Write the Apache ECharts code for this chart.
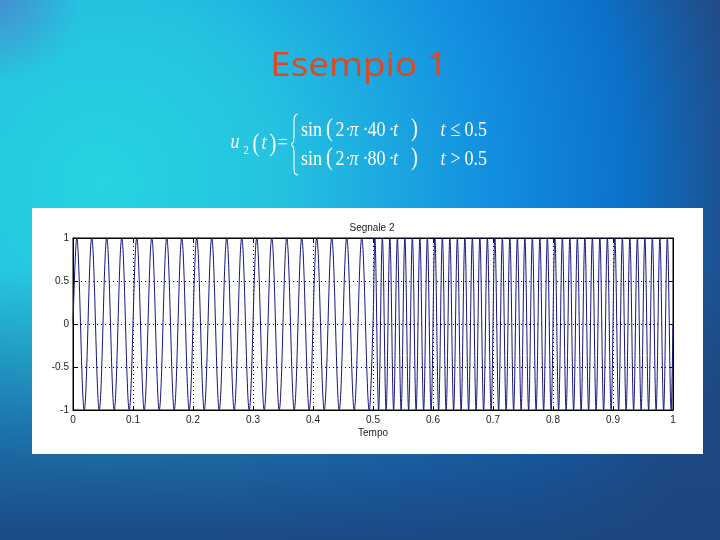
<!DOCTYPE html>
<html>
<head>
<meta charset="utf-8">
<script src="https://cdn.jsdelivr.net/npm/echarts@6/dist/echarts.min.js"></script>
<style>
  html, body { margin: 0; padding: 0; }
  #chart { width: 720px; height: 540px; }
</style>
</head>
<body>
<div id="chart"></div>
<script>
// picchi e valli del segnale (40 Hz fino a 0.5, poi 80 Hz)
var tempo = [
  0,
  0.00625, 0.01875, 0.03125, 0.04375, 0.05625, 0.06875, 0.08125, 0.09375,
  0.10625, 0.11875, 0.13125, 0.14375, 0.15625, 0.16875, 0.18125, 0.19375,
  0.20625, 0.21875, 0.23125, 0.24375, 0.25625, 0.26875, 0.28125, 0.29375,
  0.30625, 0.31875, 0.33125, 0.34375, 0.35625, 0.36875, 0.38125, 0.39375,
  0.40625, 0.41875, 0.43125, 0.44375, 0.45625, 0.46875, 0.48125, 0.49375,
  0.5,
  0.503125, 0.509375, 0.515625, 0.521875, 0.528125, 0.534375, 0.540625, 0.546875,
  0.553125, 0.559375, 0.565625, 0.571875, 0.578125, 0.584375, 0.590625, 0.596875,
  0.603125, 0.609375, 0.615625, 0.621875, 0.628125, 0.634375, 0.640625, 0.646875,
  0.653125, 0.659375, 0.665625, 0.671875, 0.678125, 0.684375, 0.690625, 0.696875,
  0.703125, 0.709375, 0.715625, 0.721875, 0.728125, 0.734375, 0.740625, 0.746875,
  0.753125, 0.759375, 0.765625, 0.771875, 0.778125, 0.784375, 0.790625, 0.796875,
  0.803125, 0.809375, 0.815625, 0.821875, 0.828125, 0.834375, 0.840625, 0.846875,
  0.853125, 0.859375, 0.865625, 0.871875, 0.878125, 0.884375, 0.890625, 0.896875,
  0.903125, 0.909375, 0.915625, 0.921875, 0.928125, 0.934375, 0.940625, 0.946875,
  0.953125, 0.959375, 0.965625, 0.971875, 0.978125, 0.984375, 0.990625, 0.996875,
  1
];
var segnale = [
  0,
  1, -1, 1, -1, 1, -1, 1, -1,
  1, -1, 1, -1, 1, -1, 1, -1,
  1, -1, 1, -1, 1, -1, 1, -1,
  1, -1, 1, -1, 1, -1, 1, -1,
  1, -1, 1, -1, 1, -1, 1, -1,
  0,
  1, -1, 1, -1, 1, -1, 1, -1,
  1, -1, 1, -1, 1, -1, 1, -1,
  1, -1, 1, -1, 1, -1, 1, -1,
  1, -1, 1, -1, 1, -1, 1, -1,
  1, -1, 1, -1, 1, -1, 1, -1,
  1, -1, 1, -1, 1, -1, 1, -1,
  1, -1, 1, -1, 1, -1, 1, -1,
  1, -1, 1, -1, 1, -1, 1, -1,
  1, -1, 1, -1, 1, -1, 1, -1,
  1, -1, 1, -1, 1, -1, 1, -1,
  0
];
var xTicks = [0, 0.1, 0.2, 0.3, 0.4, 0.5, 0.6, 0.7, 0.8, 0.9, 1];
var yTicks = [-1, -0.5, 0, 0.5, 1];

var chart = echarts.init(document.getElementById("chart"));

var serif = "'Liberation Serif', 'DejaVu Serif', serif";
var sans = "'Liberation Sans', Arial, sans-serif";
function txt(x, y, s, size, italic) {
  return {
    type: "text",
    x: x,
    y: y,
    scaleX: 0.82,
    z: 5,
    style: {
      text: s,
      fill: "#ffffff",
      font: (italic ? "italic " : "") + size + "px " + serif,
      verticalAlign: "middle"
    }
  };
}
function riga(y, freq, cond) {
  return [
    txt(301, y, "sin", 22),
    txt(326, y - 1, "(", 25),
    txt(335.5, y, "2", 22),
    txt(345, y, "\u00b7", 22),
    txt(349.5, y, "\u03c0", 22, true),
    txt(362.5, y, "\u00b7", 22),
    txt(367.5, y, freq, 22),
    txt(388.5, y, "\u00b7", 22),
    txt(393, y, "t", 22, true),
    txt(411, y - 1, ")", 25),
    txt(440.5, y, "t", 22, true),
    txt(450.5, y, cond, 22),
    txt(464.5, y, "0.5", 22)
  ];
}
function curva(x1, y1, cx1, cy1, cx2, cy2, x2, y2) {
  return {
    type: "bezierCurve",
    z: 5,
    shape: { x1: x1, y1: y1, cpx1: cx1, cpy1: cy1, cpx2: cx2, cpy2: cy2, x2: x2, y2: y2 },
    style: { stroke: "#ffffff", lineWidth: 1.1, fill: null }
  };
}
function tratto(x1, y1, x2, y2) {
  return {
    type: "line",
    z: 5,
    shape: { x1: x1, y1: y1, x2: x2, y2: y2 },
    style: { stroke: "#ffffff", lineWidth: 1.1 }
  };
}

var dotted = { color: "#000", type: [1, 3], width: 1 };
var tick = { show: true, inside: true, length: 4, lineStyle: { color: "#000" } };
var line = { show: true, onZero: false, lineStyle: { color: "#000" } };

chart.setOption({
  animation: false,
  graphic: [
    {
      type: "rect",
      z: -30,
      shape: { x: 0, y: 0, width: 720, height: 540 },
      style: {
        fill: {
          type: "radial", x: 0.14, y: 0.34, r: 1.2,
          colorStops: [
            { offset: 0, color: "#25d4e2" },
            { offset: 0.28, color: "#25c2e0" },
            { offset: 0.62, color: "#128ce0" },
            { offset: 0.82, color: "#0c70c8" },
            { offset: 1, color: "#214a82" }
          ]
        }
      },
      silent: true
    },
    {
      type: "rect",
      z: -29,
      shape: { x: 0, y: 0, width: 720, height: 540 },
      style: {
        fill: {
          type: "linear", x: 0, y: 0, x2: 0, y2: 1,
          colorStops: [
            { offset: 0, color: "rgba(28,70,128,0)" },
            { offset: 0.5, color: "rgba(28,70,128,0)" },
            { offset: 1, color: "rgba(28,70,128,0.95)" }
          ]
        }
      },
      silent: true
    },
    {
      type: "rect",
      z: -28,
      shape: { x: 0, y: 0, width: 90, height: 90 },
      style: {
        fill: {
          type: "radial", x: 0, y: 0, r: 0.9,
          colorStops: [
            { offset: 0, color: "rgba(90,115,195,0.6)" },
            { offset: 1, color: "rgba(90,115,195,0)" }
          ]
        }
      },
      silent: true
    },
    {
      type: "rect",
      z: -20,
      shape: { x: 32, y: 208, width: 671, height: 246 },
      style: { fill: "#ffffff" },
      silent: true
    },
    {
      type: "text",
      x: 359,
      y: 67,
      scaleX: 1.15,
      z: 5,
      style: {
        text: "Esempio 1",
        fill: "#e2461f",
        font: "32px 'Open Sans', Lato, sans-serif",
        align: "center",
        verticalAlign: "middle"
      }
    },
    {
      type: "text",
      x: 372,
      y: 228,
      z: 5,
      style: {
        text: "Segnale 2",
        fill: "#222",
        font: "10px " + sans,
        align: "center",
        verticalAlign: "middle"
      }
    },
    txt(230.5, 142, "u", 22, true),
    txt(243.5, 151, "2", 13),
    txt(252.5, 144, "(", 25),
    txt(261.5, 143, "t", 22, true),
    txt(269.5, 144, ")", 25),
    txt(277.5, 143, "=", 22),
    curva(298, 114, 294.5, 114, 294, 117, 294, 123),
    tratto(294, 123, 294, 137),
    curva(294, 137, 294, 142, 293, 143.5, 291, 144.5),
    curva(291, 144.5, 293, 145.5, 294, 147, 294, 152),
    tratto(294, 152, 294, 167),
    curva(294, 167, 294, 173, 294.5, 175, 298, 175)
  ].concat(riga(130, "40", "\u2264"), riga(159, "80", ">")),
  grid: {
    left: 73,
    right: 47,
    top: 238,
    bottom: 130,
    show: true,
    borderColor: "#000",
    borderWidth: 1,
    backgroundColor: "#ffffff"
  },
  xAxis: [
    {
      type: "value",
      min: 0,
      max: 1,
      interval: 0.1,
      name: "Tempo",
      nameLocation: "middle",
      nameGap: 18,
      nameTextStyle: { fontSize: 10, color: "#222", fontFamily: sans },
      axisLine: line,
      axisTick: tick,
      axisLabel: {
        fontSize: 10, color: "#222", margin: 5, fontFamily: sans,
        formatter: function (v) { return String(xTicks[Math.round(v * 10)]); }
      },
      splitLine: { show: true, lineStyle: dotted }
    },
    {
      type: "value",
      position: "top",
      min: 0,
      max: 1,
      interval: 0.1,
      axisLine: line,
      axisTick: tick,
      axisLabel: { show: false },
      splitLine: { show: false }
    }
  ],
  yAxis: [
    {
      type: "value",
      min: -1,
      max: 1,
      interval: 0.5,
      axisLine: line,
      axisTick: tick,
      axisLabel: {
        fontSize: 10, color: "#222", margin: 4, fontFamily: sans,
        formatter: function (v) { return String(yTicks[Math.round((v + 1) * 2)]); }
      },
      splitLine: { show: true, lineStyle: dotted }
    },
    {
      type: "value",
      position: "right",
      min: -1,
      max: 1,
      interval: 0.5,
      axisLine: line,
      axisTick: tick,
      axisLabel: { show: false },
      splitLine: { show: false }
    }
  ],
  series: [
    {
      name: "Segnale 2",
      type: "line",
      xAxisIndex: 0,
      yAxisIndex: 0,
      data: tempo.map(function (t, i) { return [t, segnale[i]]; }),
      showSymbol: false,
      symbol: "none",
      smooth: 0.36,
      lineStyle: { color: "#16167a", width: 1 },
      z: 3
    }
  ]
});
</script>
</body>
</html>
